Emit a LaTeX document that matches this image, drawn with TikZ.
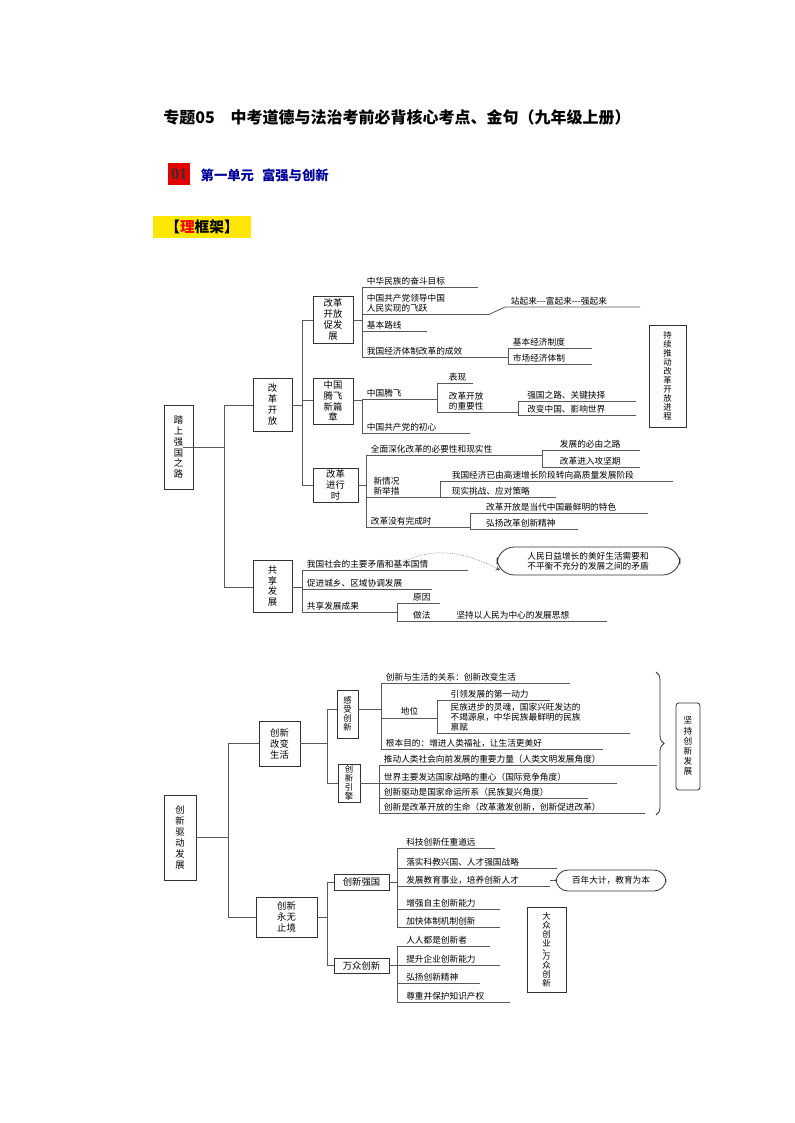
\documentclass[tikz,border=0pt]{standalone}
\usepackage{fontspec}
\setmainfont{Liberation Serif}
\newfontfamily\cjk{Noto Sans CJK SC}
\usetikzlibrary{decorations.pathreplacing}
\begin{document}
\begin{tikzpicture}[x=0.75pt,y=-0.75pt,
  ln/.style={draw=black!65,line width=0.6pt},
  bxs/.style={draw=black!80,line width=0.6pt},
  lt/.style={font=\cjk\fontsize{6.5}{7.6}\selectfont,inner sep=0.5pt,anchor=south west,align=left},
  bt/.style={font=\cjk\fontsize{7}{8.2}\selectfont,align=center,inner sep=0pt},
  btt/.style={font=\cjk\fontsize{6.3}{6.8}\selectfont,align=center,inner sep=0pt}]
\useasboundingbox (0,0) rectangle (794,1123);
\fill[white] (0,0) rectangle (794,1123);
\newcommand\bx[6]{\draw[bxs] (#2,#3) rectangle (#4,#5); \node[bt] (#1) at ({(#2+#4)/2},{(#3+#5)/2}) {#6};}
\newcommand\bxt[6]{\draw[bxs] (#2,#3) rectangle (#4,#5); \node[btt] (#1) at ({(#2+#4)/2},{(#3+#5)/2}) {#6};}
\newcommand\lf[5]{\draw[ln] (#2,#4) -- (#3,#4); \node[lt] (#1) at (#2+4,#4-1) {#5};}
% header
\node[font=\cjk\bfseries\fontsize{12}{14}\selectfont] (title) at (397,117) {专题05\hspace{1em}中考道德与法治考前必背核心考点、金句（九年级上册）};
\fill[red!90!black] (168,163) rectangle (190,185);
\node[font=\bfseries\fontsize{12}{14}\selectfont,text=black!80] (n01) at (179,174) {01};
\node[font=\cjk\bfseries\fontsize{10}{12}\selectfont,text=blue!60!black,anchor=west] (unit) at (196,175) {第一单元\hspace{0.6em}富强与创新};
\fill[yellow!90!orange] (153,216) rectangle (251,238);
\node[font=\cjk\bfseries\fontsize{11}{13}\selectfont] (kj) at (202,227) {【\textcolor{red}{理}框架】};
% ===== tree 1
\bx{root1}{164}{405}{193}{489}{踏\\上\\强\\国\\之\\路}
\draw[ln] (root1.east|-0,447) -- (224,447);
\draw[ln] (224,405) -- (224,587);
\bx{ggkf}{253}{378}{292}{431}{改\\革\\开\\放}
\bx{gxfz}{253}{560}{292}{612}{共\\享\\发\\展}
\draw[ln] (224,405) -- (253,405);
\draw[ln] (224,587) -- (253,587);
\draw[ln] (292,405) -- (302,405);
\draw[ln] (302,320) -- (302,485);
\bx{cfz}{313}{296}{353}{343}{改革\\开放\\促发\\展}
\bx{tf}{313}{378}{353}{424}{中国\\腾飞\\新篇\\章}
\bx{jxs}{313}{468}{358}{502}{改革\\进行\\时}
\draw[ln] (302,320) -- (313,320);
\draw[ln] (302,400) -- (313,400);
\draw[ln] (302,485) -- (313,485);
% cfz
\draw[ln] (353,320) -- (362,320); \draw[ln] (362,287) -- (362,357);
\lf{a1}{362}{478}{287}{中华民族的奋斗目标}
\lf{a2}{362}{490}{314}{中国共产党领导中国\\人民实现的飞跃}
\draw[ln] (490,314) -- (505,307) -- (640,307);
\node[lt] (a2b) at (510,306) {站起来---富起来---强起来};
\lf{a3}{362}{427}{331}{基本路线}
\lf{a4}{362}{508}{357}{我国经济体制改革的成效}
\draw[ln] (508,348) -- (508,364);
\lf{a41}{508}{592}{348}{基本经济制度}
\lf{a42}{508}{592}{364}{市场经济体制}
% tf
\draw[ln] (353,400) -- (362,400); \draw[ln] (362,399) -- (362,433);
\lf{b1}{362}{437}{399}{中国腾飞}
\draw[ln] (437,383) -- (437,412);
\lf{b11}{437}{473}{383}{\hspace{0.8em}表现}
\lf{b12}{437}{518}{412}{\hspace{0.8em}改革开放\\\hspace{0.8em}的重要性}
\draw[ln] (518,401) -- (518,415);
\lf{b121}{518}{636}{401}{\hspace{0.5em}强国之路、关键抉择}
\lf{b122}{518}{636}{415}{\hspace{0.5em}改变中国、影响世界}
\lf{b2}{362}{470}{433}{中国共产党的初心}
% jxs
\draw[ln] (358,485) -- (366,485); \draw[ln] (366,455) -- (366,527);
\lf{c1}{366}{542}{455}{全面深化改革的必要性和现实性}
\draw[ln] (542,450) -- (542,467);
\lf{c11}{542}{640}{450}{\hspace{1.5em}发展的必由之路}
\lf{c12}{542}{640}{467}{\hspace{1.5em}改革进入攻坚期}
\lf{c2}{366}{440}{497}{\hspace{0.3em}新情况\\\hspace{0.3em}新举措}
\draw[ln] (440,481) -- (440,497);
\lf{c21}{440}{673}{481}{\hspace{0.8em}我国经济已由高速增长阶段转向高质量发展阶段}
\lf{c22}{440}{556}{497}{\hspace{0.8em}现实挑战、应对策略}
\lf{c3}{366}{470}{527}{改革没有完成时}
\draw[ln] (470,513) -- (470,529);
\lf{c31}{470}{648}{513}{\hspace{1.3em}改革开放是当代中国最鲜明的特色}
\lf{c32}{470}{578}{529}{\hspace{1.3em}弘扬改革创新精神}
\bxt{side1}{649}{325}{686}{427}{持\\续\\推\\动\\改\\革\\开\\放\\进\\程}
% gxfz
\draw[ln] (292,587) -- (302,587); \draw[ln] (302,570) -- (302,612);
\lf{d1}{302}{468}{570}{我国社会的主要矛盾和基本国情}
\lf{d2}{302}{432}{589}{促进城乡、区域协调发展}
\lf{d3}{302}{397}{612}{共享发展成果}
\draw[ln] (397,603) -- (397,621);
\lf{d31}{397}{440}{603}{\hspace{1.3em}原因}
\lf{d32}{397}{607}{621}{\hspace{1.3em}做法\hspace{3em}坚持以人民为中心的发展思想}
\draw[bxs,rounded corners=13pt] (497,547) rectangle (680,575);
\node[bt,font=\cjk\fontsize{6.5}{7.6}\selectfont] (mdu) at (588,561) {人民日益增长的美好生活需要和\\不平衡不充分的发展之间的矛盾};
\draw[densely dotted,black!70,->,>=stealth] (405,561) .. controls (440,545) and (470,555) .. (500,570);
% ===== tree 2
\bx{root2}{164}{795}{196}{880}{创\\新\\驱\\动\\发\\展}
\draw[ln] (196,837) -- (228,837);
\draw[ln] (228,743) -- (228,917);
\bx{gbsh}{259}{721}{300}{766}{创新\\改变\\生活}
\bx{ywzj}{256}{897}{317}{937}{创新\\永无\\止境}
\draw[ln] (228,743) -- (259,743);
\draw[ln] (228,917) -- (256,917);
\draw[ln] (300,743) -- (327,743); \draw[ln] (327,709) -- (327,783);
\bxt{gscx}{337}{690}{358}{738}{感\\受\\创\\新}
\bxt{cxyq}{338}{764}{360}{802}{创\\新\\引\\擎}
\draw[ln] (327,709) -- (337,709);
\draw[ln] (327,783) -- (338,783);
\draw[ln] (358,709) -- (381,709); \draw[ln] (381,683) -- (381,749);
\lf{e1}{381}{570}{683}{创新与生活的关系：创新改变生活}
\draw[ln] (381,718) -- (437,718);
\node[lt,anchor=west] (e2) at (400,711) {地位};
\draw[ln] (437,700) -- (437,733);
\lf{e21}{437}{550}{700}{\hspace{1em}引领发展的第一动力}
\lf{e22}{437}{630}{733}{\hspace{1em}民族进步的灵魂，国家兴旺发达的\\\hspace{1em}不竭源泉，中华民族最鲜明的民族\\\hspace{1em}禀赋}
\lf{e3}{381}{603}{749}{根本目的：增进人类福祉，让生活更美好}
\draw[ln] (360,783) -- (379,783); \draw[ln] (379,765) -- (379,813);
\lf{f1}{379}{657}{765}{推动人类社会向前发展的重要力量（人类文明发展角度）}
\lf{f2}{379}{617}{783}{世界主要发达国家战略的重心（国际竞争角度）}
\lf{f3}{379}{588}{798}{创新驱动是国家命运所系（民族复兴角度）}
\lf{f4}{379}{645}{813}{创新是改革开放的生命（改革激发创新，创新促进改革）}
\draw[black!80,line width=0.6pt,decorate,decoration={brace,amplitude=6pt}] (656,672) -- (656,815);
\draw[bxs,rounded corners=2pt] (676,703) rectangle (700,790);
\node[bt,font=\cjk\fontsize{6.5}{7.6}\selectfont] (jc) at (688,746) {坚\\持\\创\\新\\发\\展};
% ywzj
\draw[ln] (317,917) -- (327,917); \draw[ln] (327,882) -- (327,965);
\bx{cxqg}{334}{874}{389}{890}{创新强国}
\bx{wzcx}{334}{958}{389}{973}{万众创新}
\draw[ln] (327,882) -- (334,882);
\draw[ln] (327,965) -- (334,965);
\draw[ln] (389,882) -- (397,882); \draw[ln] (397,848) -- (397,927);
\lf{g1}{397}{495}{848}{\hspace{0.5em}科技创新任重道远}
\lf{g2}{397}{557}{868}{\hspace{0.5em}落实科教兴国、人才强国战略}
\lf{g3}{397}{550}{886}{\hspace{0.5em}发展教育事业，培养创新人才}
\lf{g4}{397}{500}{909}{\hspace{0.5em}增强自主创新能力}
\lf{g5}{397}{500}{927}{\hspace{0.5em}加快体制机制创新}
\draw[bxs,rounded corners=9pt] (556,870) rectangle (666,891);
\node[bt,font=\cjk\fontsize{6.5}{7.6}\selectfont] (bn) at (611,880.5) {百年大计，教育为本};
\draw[ln] (550,880) -- (556,880);
\draw[ln] (389,965) -- (397,965); \draw[ln] (397,946) -- (397,1002);
\lf{h1}{397}{490}{946}{\hspace{0.5em}人人都是创新者}
\lf{h2}{397}{500}{965}{\hspace{0.5em}提升企业创新能力}
\lf{h3}{397}{480}{983}{\hspace{0.5em}弘扬创新精神}
\lf{h4}{397}{510}{1002}{\hspace{0.5em}尊重并保护知识产权}
\bxt{dz}{527}{907}{566}{992}{大\\众\\创\\业\\[-3pt]、\\[-1pt]万\\众\\创\\新}
\end{tikzpicture}
\end{document}
